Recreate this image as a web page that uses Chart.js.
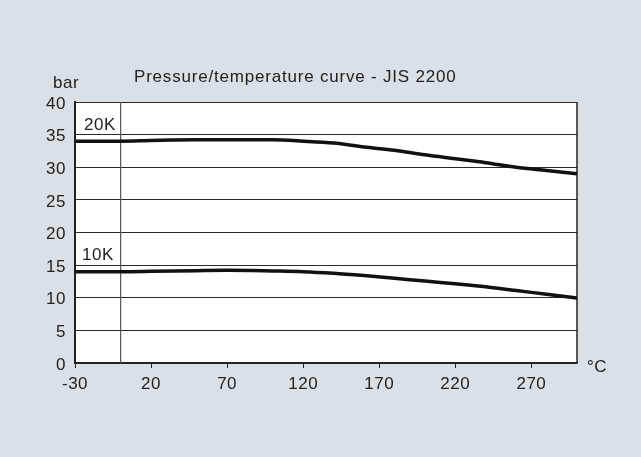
<!DOCTYPE html>
<html>
<head>
<meta charset="utf-8">
<script src="https://cdn.jsdelivr.net/npm/chart.js@4.4.1/dist/chart.umd.min.js"></script>
<style>
  html, body { margin: 0; padding: 0; background: #d9e1e7; }
  #wrap { width: 641px; height: 457px; }
</style>
</head>
<body>
<div id="wrap"><canvas id="myChart"></canvas></div>
<script>
/*--data--*/
var temps = [-30, 0, 20, 50, 70, 100, 120, 140, 160, 180, 200, 220, 240, 260, 280, 300];
var p20K = [34.0, 34.0, 34.1, 34.2, 34.2, 34.2, 34.0, 33.7, 33.1, 32.6, 31.9, 31.3, 30.7, 30.0, 29.5, 29.0];
var p10K = [14.0, 14.0, 14.05, 14.15, 14.2, 14.1, 14.0, 13.75, 13.4, 13.0, 12.55, 12.15, 11.7, 11.1, 10.55, 9.95];
var xTicks = [-30, 20, 70, 120, 170, 220, 270];
var yTicks = [0, 5, 10, 15, 20, 25, 30, 35, 40];
var ink = '#222';
var fontFam = '"Liberation Sans", Arial, sans-serif';

function points(vals) {
  return temps.map(function (t, i) { return { x: t, y: vals[i] }; });
}

/*--plot background, 0 line, frame and labels--*/
var decor = {
  id: 'decor',
  beforeDraw: function (chart) {
    var c = chart.ctx, a = chart.chartArea;
    c.letterSpacing = '0.5px';
    c.save();
    c.fillStyle = '#ffffff';
    c.fillRect(a.left, a.top, a.right - a.left, a.bottom - a.top);
    c.restore();
  },
  beforeDatasetsDraw: function (chart) {
    var c = chart.ctx, a = chart.chartArea;
    var x0 = chart.scales.x.getPixelForValue(0);
    c.save();
    c.strokeStyle = '#555';
    c.lineWidth = 1.2;
    c.beginPath();
    c.moveTo(x0, a.top);
    c.lineTo(x0, a.bottom);
    c.stroke();
    c.strokeStyle = ink;
    c.lineWidth = 1.5;
    c.beginPath();
    c.moveTo(a.right, a.top);
    c.lineTo(a.right, a.bottom);
    c.stroke();
    c.restore();
  },
  afterDraw: function (chart) {
    var c = chart.ctx, a = chart.chartArea, y = chart.scales.y;
    c.save();
    c.fillStyle = ink;
    c.font = '17px ' + fontFam;
    c.textBaseline = 'alphabetic';
    c.textAlign = 'left';
    c.letterSpacing = '0.8px';
    c.fillText('Pressure/temperature curve - JIS 2200', 134, a.top - 20);
    c.letterSpacing = '0.5px';
    c.fillText('bar', 53, a.top - 14);
    c.fillText('20K', a.left + 9, y.getPixelForValue(35) - 5);
    c.fillText('10K', a.left + 7, y.getPixelForValue(15) - 5);
    c.fillText('°C', a.right + 10, a.bottom + 9);
    c.restore();
  }
};

var ctx = document.getElementById('myChart').getContext('2d');
var myChart = new Chart(ctx, {
  type: 'line',
  plugins: [decor],
  data: {
    datasets: [
      {
        label: '20K',
        data: points(p20K),
        borderColor: '#111',
        borderWidth: 3.5,
        pointRadius: 0,
        cubicInterpolationMode: 'monotone',
        fill: false
      },
      {
        label: '10K',
        data: points(p10K),
        borderColor: '#111',
        borderWidth: 3.5,
        pointRadius: 0,
        cubicInterpolationMode: 'monotone',
        fill: false
      }
    ]
  },
  options: {
    responsive: true,
    maintainAspectRatio: false,
    animation: false,
    devicePixelRatio: 1,
    layout: { padding: { left: 0, top: 102, right: 64, bottom: 0 } },
    plugins: {
      legend: { display: false },
      title: { display: false },
      tooltip: { enabled: false }
    },
    scales: {
      x: {
        type: 'linear',
        min: -30,
        max: 300,
        afterBuildTicks: function (scale) {
          scale.ticks = xTicks.map(function (v) { return { value: v }; });
        },
        afterFit: function (scale) { scale.height = 94; },
        grid: { drawOnChartArea: false, drawTicks: true, tickLength: 5, color: ink, lineWidth: 1 },
        border: { display: true, color: ink, width: 1.5 },
        ticks: {
          color: ink,
          padding: 6,
          maxRotation: 0,
          autoSkip: false,
          font: { family: fontFam, size: 17 }
        }
      },
      y: {
        min: 0,
        max: 40,
        afterBuildTicks: function (scale) {
          scale.ticks = yTicks.map(function (v) { return { value: v }; });
        },
        afterFit: function (scale) { scale.width = 75; },
        grid: { drawTicks: false, color: '#2a2a2a', lineWidth: 1 },
        border: { display: true, color: ink, width: 2 },
        ticks: {
          color: ink,
          padding: 9,
          labelOffset: 2,
          autoSkip: false,
          font: { family: fontFam, size: 17 }
        }
      }
    }
  }
});
</script>
</body>
</html>
